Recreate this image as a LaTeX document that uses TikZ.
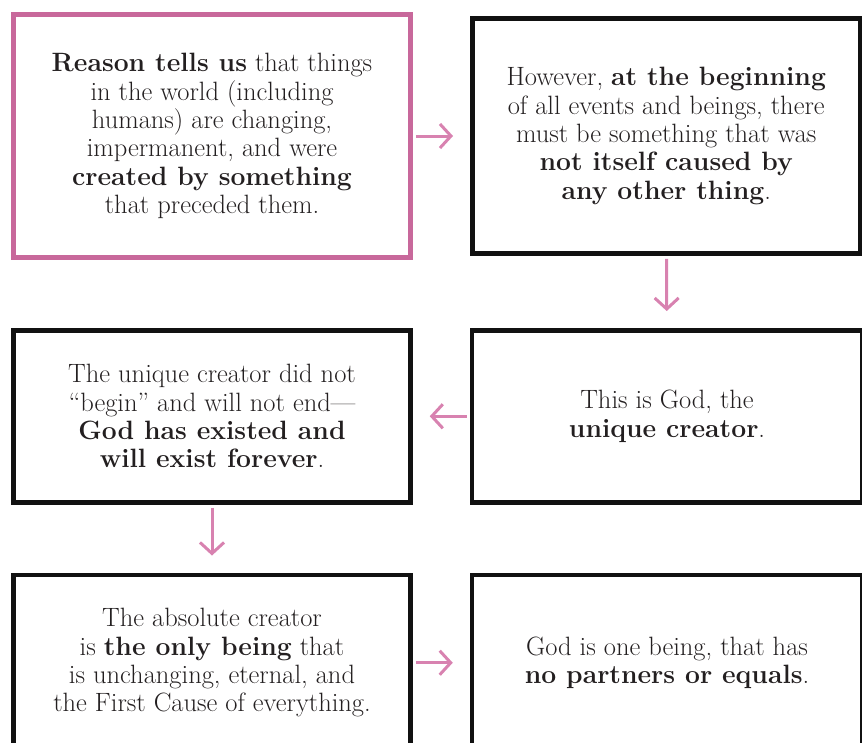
\documentclass[tikz,border=0pt]{standalone}
\usepackage{xcolor}
\usepackage{tikz}
\usetikzlibrary{arrows.meta,positioning}
\definecolor{ink}{HTML}{231F20}
\definecolor{frame}{HTML}{111111}
\definecolor{rose}{HTML}{C8689B}
\definecolor{roselight}{HTML}{D882B0}

\begin{document}
\begin{tikzpicture}[
    node distance=68pt and 57pt,
    idea/.style={draw=frame,line width=4.5pt,align=center,text=ink,inner sep=0pt,font=\fontsize{26.5}{28.3}\selectfont},
    keyidea/.style={idea,draw=rose,line width=5pt},
    arrow/.style={-{Straight Barb[length=11pt,width=24pt]},line width=3pt,draw=roselight,shorten <=3pt,shorten >=17pt}
  ]
    \useasboundingbox (0,0) rectangle (862pt,-742pt);
    \node[keyidea,minimum width=397pt,minimum height=243pt] (reason) at (212pt,-136pt)
      {\textbf{Reason tells us} that things\\in the world (including\\humans) are changing,\\impermanent, and were\\\textbf{created by something}\\that preceded them.};
    \node[idea,minimum width=388pt,minimum height=235pt,right=of reason] (start)
      {However, \textbf{at the beginning}\\of all events and beings, there\\must be something that was\\\textbf{not itself caused by}\\\textbf{any other thing}.};
    \node[idea,minimum width=397pt,minimum height=172pt,below=of reason] (eternal)
      {The unique creator did not\\``begin'' and will not end---\\\textbf{God has existed and}\\\textbf{will exist forever}.};
    \node[idea,minimum width=390pt,minimum height=172pt,right=of eternal] (god)
      {This is God, the\\\textbf{unique creator}.};
    \node[idea,minimum width=397pt,minimum height=176pt,below=of eternal] (only)
      {The absolute creator\\is \textbf{the only being} that\\is unchanging, eternal, and\\the First Cause of everything.};
    \node[idea,minimum width=390pt,minimum height=176pt,right=of only] (one)
      {God is one being, that has\\\textbf{no partners or equals}.};
    \draw[arrow] (reason) -- (start);
    \draw[arrow] (start) -- (god);
    \draw[arrow] (god) -- (eternal);
    \draw[arrow] (eternal) -- (only);
    \draw[arrow] (only) -- (one);
  \end{tikzpicture}
\end{document}
